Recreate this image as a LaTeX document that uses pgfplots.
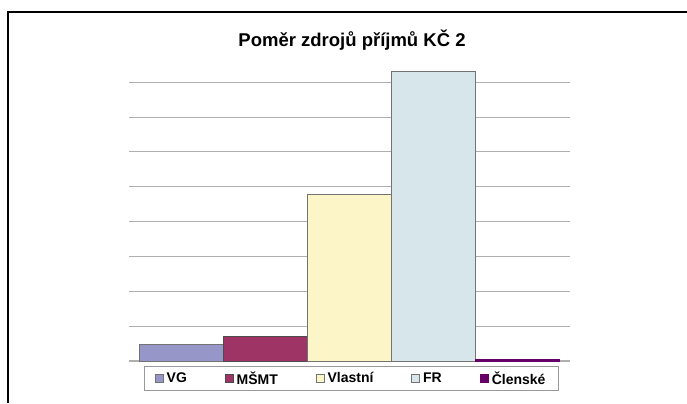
\documentclass[border=0pt]{standalone}
\usepackage{pgfplots}
\pgfplotsset{compat=1.18}
\usepackage{fontspec}
\setmainfont{Liberation Sans}
\definecolor{cVG}{RGB}{150,150,200}
\definecolor{cMS}{RGB}{158,52,102}
\definecolor{cVL}{RGB}{251,245,200}
\definecolor{cFR}{RGB}{214,230,234}
\definecolor{cCL}{RGB}{102,0,102}
\definecolor{gridc}{RGB}{175,175,175}
\begin{document}
\begin{tikzpicture}[x=1bp,y=1bp]
\path[use as bounding box] (0,0) rectangle (687,403);
\draw[line width=1.6bp,black] (8,0) -- (8,390.7) -- (687,390.7);
\node[anchor=base,font=\bfseries\fontsize{18.5bp}{20bp}\selectfont] at (352,356.3) {Poměr zdrojů příjmů KČ 2};
\begin{axis}[
  at={(129bp,42bp)}, anchor=south west,
  scale only axis, width=441bp, height=313.65bp,
  xmin=-0.625, xmax=4.625, ymin=0, ymax=9,
  axis lines=none,
  ytick={1,2,3,4,5,6,7,8}, xtick=\empty,
  clip=false,
  legend columns=5,
  legend style={at={(0.504,-0.0558)}, anchor=center,
    draw=gray!80, line width=0.6bp, inner xsep=11bp, inner ysep=3bp,
    font=\bfseries\fontsize{14bp}{16bp}\selectfont,
    /tikz/every even column/.append style={column sep=36bp},
    /tikz/every odd column/.append style={column sep=1bp}},
  legend image code/.code={\draw[#1] (0bp,-4bp) rectangle (8bp,4bp);},
]
\pgfplotsinvokeforeach{1,...,8}{\draw[gridc, line width=1bp] (axis cs:-0.625,#1) -- (axis cs:4.625,#1);}
\draw[gridc, line width=1.2bp] (axis cs:-0.625,0) -- (axis cs:4.625,0);
\addplot[ybar, bar width=1, bar shift=0pt, fill=cVG, draw=gray!90!black, line width=0.7bp] coordinates {(0,0.48)};
\addlegendentry{VG}
\addplot[ybar, bar width=1, bar shift=0pt, fill=cMS, draw=gray!60!black, line width=0.7bp] coordinates {(1,0.71)};
\addlegendentry{MŠMT}
\addplot[ybar, bar width=1, bar shift=0pt, fill=cVL, draw=gray!90!black, line width=0.7bp] coordinates {(2,4.78)};
\addlegendentry{Vlastní}
\addplot[ybar, bar width=1, bar shift=0pt, fill=cFR, draw=gray!90!black, line width=0.7bp] coordinates {(3,8.32)};
\addlegendentry{FR}
\addplot[ybar, bar width=1, bar shift=0pt, fill=cCL, draw=cCL, line width=1bp] coordinates {(4,0.04)};
\addlegendentry{Členské}
\end{axis}
\end{tikzpicture}
\end{document}
